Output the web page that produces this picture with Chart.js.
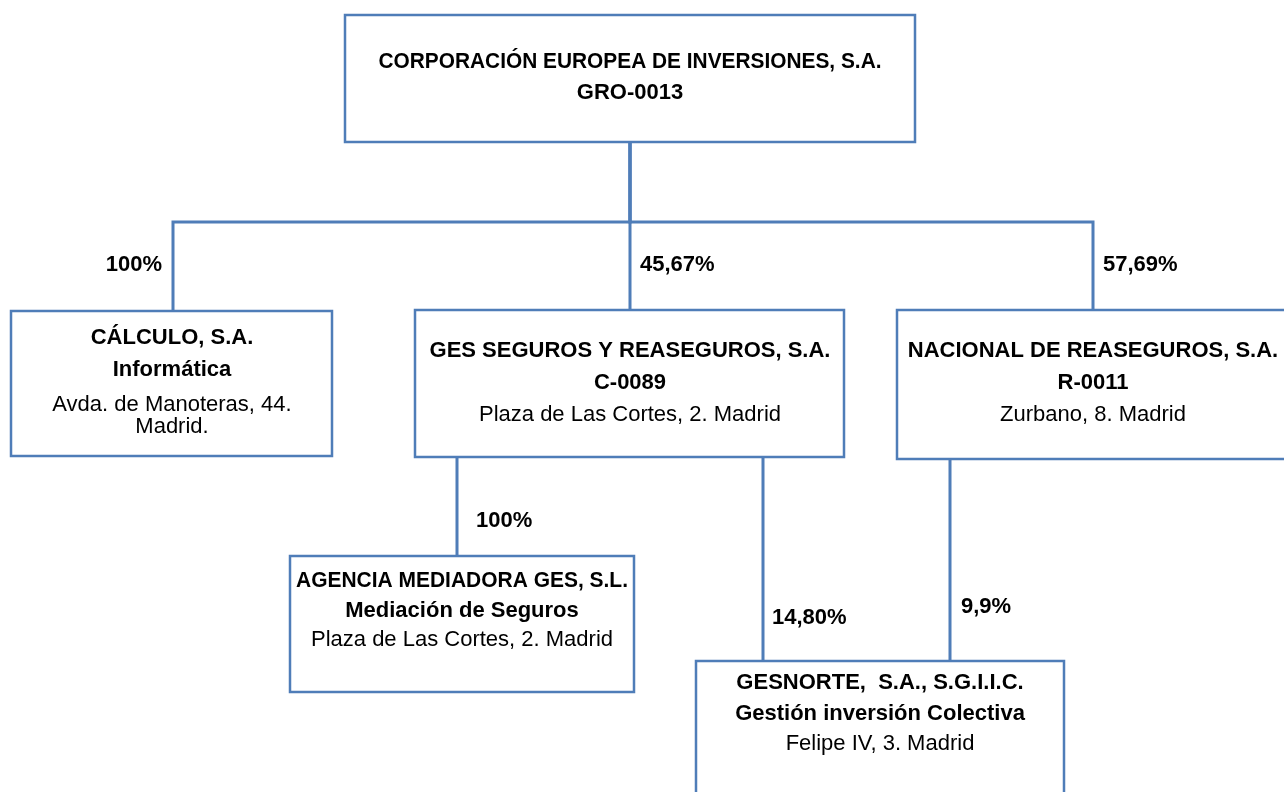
<!DOCTYPE html>
<html><head><meta charset="utf-8">
<script src="https://cdn.jsdelivr.net/npm/chart.js@4"></script>
<style>html,body{margin:0;padding:0;background:#fff;overflow:hidden}#wrap{width:1284px;height:792px}</style>
</head><body><div id="wrap"><canvas id="c" width="1284" height="792"></canvas></div>
<script>
// ---- data ----
const nodeNames = ['CORPORACIÓN EUROPEA DE INVERSIONES, S.A.', 'CÁLCULO, S.A.', 'GES SEGUROS Y REASEGUROS, S.A.', 'NACIONAL DE REASEGUROS, S.A.', 'AGENCIA MEDIADORA GES, S.L.', 'GESNORTE,  S.A., S.G.I.I.C.'];
const nodeSubtitles = ['GRO-0013', 'Informática', 'C-0089', 'R-0011', 'Mediación de Seguros', 'Gestión inversión Colectiva'];
const nodeAddresses = [[], ['Avda. de Manoteras, 44.', 'Madrid.'], ['Plaza de Las Cortes, 2. Madrid'], ['Zurbano, 8. Madrid'], ['Plaza de Las Cortes, 2. Madrid'], ['Felipe IV, 3. Madrid']];
const linkParents = [0, 0, 0, 2, 2, 3];
const linkChildren = [1, 2, 3, 4, 5, 5];
const ownershipPct = ['100%', '45,67%', '57,69%', '100%', '14,80%', '9,9%'];

// ---- layout (diagram grid units) ----
const boxRects = [[345,15,915,142],[11,311,332,456],[415,310,844,457],[897,310,1295,459],[290,556,634,692],[696,661,1064,800]];
const textCenterX = [630,172,630,1093,462,880];
const textRowsY = [[62,93],[338,370,405,427],[351,383,415],[351,383,415],[581,611,640],[683,714,744]];
const textMaxW = [503,300,410,376,332,350];
const linkPaths = [
  [[630,142],[630,222],[173,222],[173,311]],
  [[630,142],[630,310]],
  [[630,142],[630,222],[1093,222],[1093,310]],
  [[457,457],[457,556]],
  [[763,457],[763,661]],
  [[950,459],[950,661]]
];
const labelAnchors = [[162,265,'right'],[640,265,'left'],[1103,265,'left'],[476,521,'left'],[772,618,'left'],[961,607,'left']];

const LINE = '#4F7DB8';
const FONT = '"Liberation Sans", Arial, sans-serif';

const datasets = [];
boxRects.forEach((r, i) => {
  const [x0,y0,x1,y1] = r;
  datasets.push({label: nodeNames[i], data: [{x:x0,y:y0},{x:x1,y:y0},{x:x1,y:y1},{x:x0,y:y1},{x:x0,y:y0},{x:x1,y:y0}],
    showLine: true, borderColor: LINE, borderWidth: 2.5, pointRadius: 0, fill: false, tension: 0, borderJoinStyle: 'miter'});
});
linkPaths.forEach((p, i) => {
  datasets.push({label: ownershipPct[i], data: p.map(([x,y]) => ({x,y})),
    showLine: true, borderColor: LINE, borderWidth: 3, pointRadius: 0, fill: false, tension: 0, borderJoinStyle: 'miter'});
});

const textPlugin = {
  id: 'orgText',
  afterDatasetsDraw(chart) {
    const ctx = chart.ctx, sx = chart.scales.x, sy = chart.scales.y;
    ctx.save();
    ctx.fillStyle = '#000';
    ctx.textBaseline = 'middle';
    nodeNames.forEach((name, i) => {
      const rows = [[name, 'bold'], [nodeSubtitles[i], 'bold']].concat(nodeAddresses[i].map(a => [a, 'normal']));
      ctx.textAlign = 'center';
      rows.forEach((row, k) => {
        ctx.font = row[1] + ' 22px ' + FONT;
        ctx.fillText(row[0], sx.getPixelForValue(textCenterX[i]), sy.getPixelForValue(textRowsY[i][k]), textMaxW[i]);
      });
    });
    ownershipPct.forEach((t, i) => {
      const [x, y, al] = labelAnchors[i];
      ctx.font = 'bold 22px ' + FONT;
      ctx.textAlign = al;
      ctx.fillText(t, sx.getPixelForValue(x), sy.getPixelForValue(y));
    });
    ctx.restore();
  }
};

new Chart(document.getElementById('c'), {
  type: 'scatter',
  data: { datasets },
  options: {
    responsive: false, animation: false,
    layout: { padding: 0 },
    plugins: { legend: { display: false }, tooltip: { enabled: false } },
    scales: {
      x: { type: 'linear', min: 0, max: 1284, display: false },
      y: { type: 'linear', min: 0, max: 792, reverse: true, display: false }
    }
  },
  plugins: [textPlugin]
});
</script></body></html>
